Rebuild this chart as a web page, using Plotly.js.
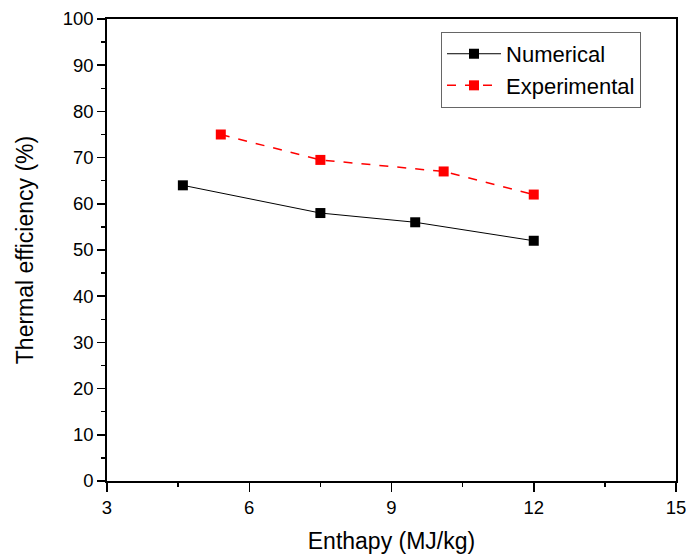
<!DOCTYPE html>
<html>
<head>
<meta charset="utf-8">
<script src="https://cdn.plot.ly/plotly-3.0.1.min.js"></script>
<style>html,body{margin:0;padding:0;background:#fff;}#chart{width:686px;height:556px;}</style>
</head>
<body>
<div id="chart"></div>
<script>
const numX = [4.6, 7.5, 9.5, 12];
const numY = [64, 58, 56, 52];
const expX = [5.4, 7.5, 10.1, 12];
const expY = [75, 69.5, 67, 62];
const xTicks = [3, 6, 9, 12, 15];
const yTicks = [0, 10, 20, 30, 40, 50, 60, 70, 80, 90, 100];

const font = "Liberation Sans, Arial, sans-serif";
const traces = [
  {x: numX, y: numY, name: 'Numerical', mode: 'lines+markers', type: 'scatter',
   line: {color: '#000000', width: 1}, marker: {symbol: 'square', size: 10, color: '#000000'}},
  {x: expX, y: expY, name: 'Experimental', mode: 'lines+markers', type: 'scatter',
   line: {color: '#ff0000', width: 1.5, dash: 'dash'}, marker: {symbol: 'square', size: 10, color: '#ff0000'}}
];
const layout = {
  width: 686, height: 556,
  margin: {l: 107, r: 10, t: 19, b: 75},
  paper_bgcolor: '#fff', plot_bgcolor: '#fff',
  font: {family: font, size: 18.5, color: '#000'},
  showlegend: true,
  legend: {x: 0.587, y: 0.972, xanchor: 'left', yanchor: 'top', bgcolor: '#fff', itemwidth: 54,
           bordercolor: '#666', borderwidth: 1, font: {size: 22, family: font}, tracegroupgap: 0},
  xaxis: {range: [3, 15], tickvals: xTicks, ticktext: xTicks.map(String), showgrid: false, zeroline: false,
          showline: true, linecolor: '#000', linewidth: 1.8, mirror: true, ticklabeloverflow: 'allow',
          ticks: 'outside', ticklen: 9, tickwidth: 1.5, tickcolor: '#000',
          minor: {dtick: 1.5, tick0: 3, ticks: 'outside', ticklen: 4, tickwidth: 1.5, tickcolor: '#000', showgrid: false},
          tickfont: {size: 18.5},
          title: {text: 'Enthapy (MJ/kg)', font: {size: 23}, standoff: 16}},
  yaxis: {range: [0, 100], tickvals: yTicks, ticktext: yTicks.map(String), showgrid: false, zeroline: false,
          showline: true, linecolor: '#000', linewidth: 1.8, mirror: true, ticklabeloverflow: 'allow',
          ticks: 'outside', ticklen: 8, tickwidth: 1.5, tickcolor: '#000',
          minor: {dtick: 5, tick0: 0, ticks: 'outside', ticklen: 4, tickwidth: 1.5, tickcolor: '#000', showgrid: false},
          tickfont: {size: 18.5},
          title: {text: 'Thermal efficiency (%)', font: {size: 23}, standoff: 22}}
};
Plotly.newPlot('chart', traces, layout, {displayModeBar: false, staticPlot: true});
</script>
</body>
</html>
